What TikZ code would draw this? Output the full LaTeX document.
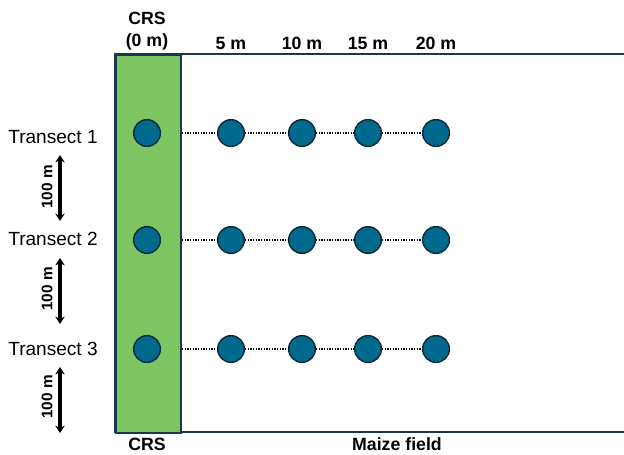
\documentclass[tikz,border=0pt]{standalone}
\usepackage{fontspec}
\setmainfont{Liberation Sans}
\usetikzlibrary{arrows.meta}
\definecolor{crsgreen}{HTML}{7DC462}
\definecolor{edgedark}{HTML}{163848}
\definecolor{dotfill}{HTML}{006A8E}
\definecolor{dotedge}{HTML}{0B2B3D}
\begin{document}
\begin{tikzpicture}[x=0.75pt,y=-0.75pt,
  sample/.style={circle,draw=dotedge,fill=dotfill,line width=1.1pt,minimum size=20pt,inner sep=0pt},
  toplabel/.style={font=\fontsize{13.3}{17}\selectfont\bfseries,align=center},
  translabel/.style={font=\fontsize{14.3}{16}\selectfont},
  distlabel/.style={font=\fontsize{11.5}{13}\selectfont\bfseries,rotate=90},
  gap/.style={{Stealth[length=5.5pt,width=7pt]}-{Stealth[length=5.5pt,width=7pt]},line width=2.4pt},
  link/.style={dash pattern=on 1pt off 1pt,line width=1pt}]
\useasboundingbox (0,0) rectangle (624,454);
% field
\draw[edgedark,line width=1.5pt] (624,54) -- (115,54) -- (115,432) -- (624,432);
\node[draw=edgedark,fill=crsgreen,line width=1.5pt,minimum width=48.75pt,minimum height=283.5pt,inner sep=0pt,anchor=north west] (crs) at (115,54) {};
% header labels
\node[toplabel] (h0) at (147,31) {CRS\\(0 m)};
\node[toplabel] (h5) at (231,43) {5 m};
\node[toplabel] (h10) at (302,43) {10 m};
\node[toplabel] (h15) at (368,43) {15 m};
\node[toplabel] (h20) at (436,43) {20 m};
% bottom labels
\node[toplabel] (bcrs) at (147,444) {CRS};
\node[toplabel] (bmaize) at (397,444) {Maize field};
% transects
\foreach \r/\y in {1/133,2/240,3/349}{
  \node[sample] (c\r0) at (147,\y) {};
  \node[sample] (c\r5) at (231,\y) {};
  \node[sample] (c\r10) at (302,\y) {};
  \node[sample] (c\r15) at (368,\y) {};
  \node[sample] (c\r20) at (436,\y) {};
  \coordinate (e\r) at (crs.east |- c\r0);
  \draw[link] (e\r) -- (c\r5) (c\r5) -- (c\r10) (c\r10) -- (c\r15) (c\r15) -- (c\r20);
}
\node[translabel] (t1) at (53,137) {Transect 1};
\node[translabel] (t2) at (53,239) {Transect 2};
\node[translabel] (t3) at (53,349) {Transect 3};
% distance arrows
\coordinate (a1s) at (60,155); \coordinate (a1e) at (60,221);
\coordinate (a2s) at (60,258); \coordinate (a2e) at (60,324);
\coordinate (a3s) at (60,367); \coordinate (a3e) at (60,433);
\draw[gap] (a1s) -- (a1e);
\draw[gap] (a2s) -- (a2e);
\draw[gap] (a3s) -- (a3e);
\node[distlabel] (d1) at (47,187) {100 m};
\node[distlabel] (d2) at (47,289) {100 m};
\node[distlabel] (d3) at (47,397) {100 m};
\end{tikzpicture}
\end{document}
